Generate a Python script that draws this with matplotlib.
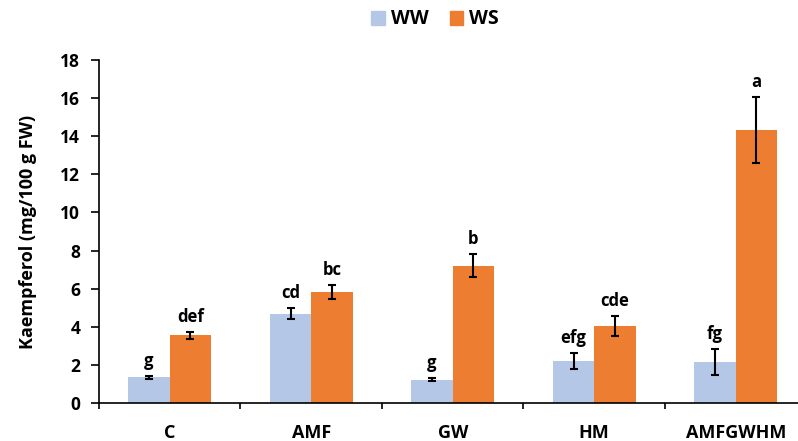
import matplotlib
matplotlib.use("Agg")
import matplotlib.pyplot as plt
import numpy as np
from matplotlib.patches import Patch

categories = ["C", "AMF", "GW", "HM", "AMFGWHM"]
ww_values = [1.36, 4.69, 1.23, 2.20, 2.15]
ws_values = [3.55, 5.82, 7.21, 4.04, 14.34]
ww_err = [0.08, 0.30, 0.10, 0.44, 0.68]
ws_err = [0.17, 0.37, 0.60, 0.52, 1.72]
ww_letters = ["g", "cd", "g", "efg", "fg"]
ws_letters = ["def", "bc", "b", "cde", "a"]
yticks = [0, 2, 4, 6, 8, 10, 12, 14, 16, 18]

plt.rcParams['font.family'] = ['Open Sans', 'DejaVu Sans']
plt.rcParams['font.weight'] = 'bold'
FW = 'bold'

fig = plt.figure(figsize=(7.98, 4.41), dpi=100)
ax = fig.add_axes([99/798, 1-403/441, 1-99/798, (403-60)/441])

x = np.arange(len(categories))
w = 0.293
c_ww = "#B4C7E7"
c_ws = "#ED7D31"
ax.bar(x - w/2, ww_values, w, color=c_ww, zorder=2)
ax.bar(x + w/2, ws_values, w, color=c_ws, zorder=2)
ax.errorbar(x - w/2, ww_values, yerr=ww_err, fmt='none', ecolor='black',
            elinewidth=1.5, capsize=3, capthick=1.5, zorder=3)
ax.errorbar(x + w/2, ws_values, yerr=ws_err, fmt='none', ecolor='black',
            elinewidth=1.5, capsize=3, capthick=1.5, zorder=3)

for xi, v, e, t in zip(x - w/2, ww_values, ww_err, ww_letters):
    ax.annotate(t, (xi, v + e), xytext=(0, 7), textcoords='offset points',
                ha='center', va='baseline', fontsize=12, fontweight=FW)
for xi, v, e, t in zip(x + w/2, ws_values, ws_err, ws_letters):
    ax.annotate(t, (xi, v + e), xytext=(0, 7), textcoords='offset points',
                ha='center', va='baseline', fontsize=12, fontweight=FW)

ax.set_ylim(0, 18)
ax.set_yticks(yticks)
ax.set_yticklabels([str(t) for t in yticks], fontsize=12.5, fontweight=FW)
ax.set_xlim(-0.5, 4.44)
ax.set_xticks(x)
ax.set_xticklabels(categories, fontsize=13, fontweight=FW)
ax.tick_params(axis='x', which='major', length=0, pad=15)
ax.set_xticks(np.arange(-0.5, 4.5, 1.0), minor=True)
ax.tick_params(axis='x', which='minor', length=4.5, width=1.2, direction='out')
ax.tick_params(axis='y', length=5.5, width=1.2, direction='out', pad=8)
for s in ['top', 'right']:
    ax.spines[s].set_visible(False)
for s in ['left', 'bottom']:
    ax.spines[s].set_linewidth(1.2)
    ax.spines[s].set_color('black')

ax.set_ylabel("Kaempferol (mg/100 g FW)", fontsize=13, fontweight=FW, labelpad=17)

handles = [Patch(color=c_ww, label="WW"), Patch(color=c_ws, label="WS")]
fig.legend(handles=handles, loc='center', bbox_to_anchor=(435/798, 1-19.5/441),
           ncol=2, frameon=False, handlelength=0.7, handleheight=0.7,
           handletextpad=0.3, columnspacing=1.1, prop={'weight': FW, 'size': 14})

fig.savefig("out.png", dpi=100)
